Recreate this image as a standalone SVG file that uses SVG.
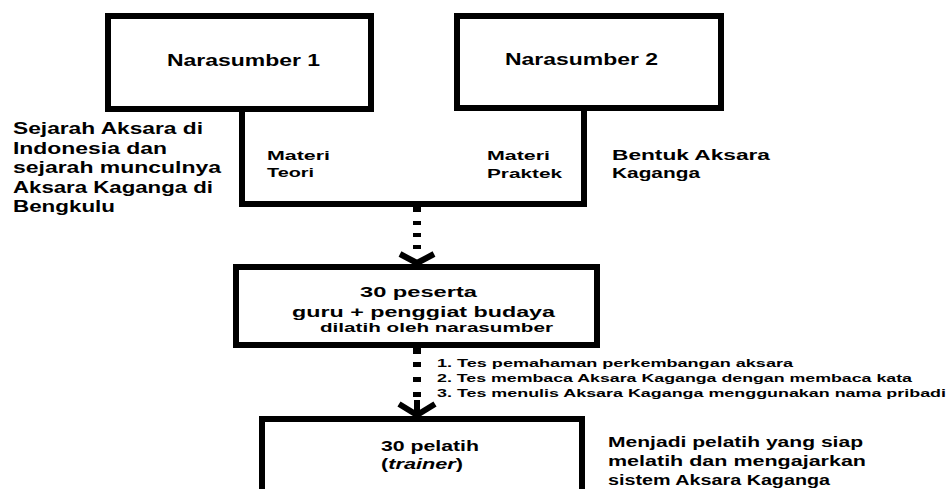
<svg xmlns="http://www.w3.org/2000/svg" width="948" height="489" viewBox="0 0 948 489">
<style>
.box{fill:#fff;stroke:#000;stroke-width:6}
.ln{fill:none;stroke:#000;stroke-width:6;stroke-linecap:square}
.arr{fill:none;stroke:#000;stroke-width:6;stroke-linejoin:miter;stroke-miterlimit:10}
.dash{fill:#000}
text{font-family:"Liberation Sans",Arial,sans-serif;font-weight:bold;fill:#000}
.f16{font-size:16px}
.f15{font-size:14.5px}
.f14{font-size:14px}
.f13{font-size:13px}
.f125{font-size:12.5px}
.f12{font-size:11.5px}
</style>
<rect width="948" height="489" fill="#fff"/>
<g id="connectors">
  <path class="ln" d="M242,110 V204 H584 V110"/>
  <rect class="dash" x="413" y="205" width="8" height="7"/>
  <rect class="dash" x="413" y="221" width="8" height="4"/>
  <rect class="dash" x="413" y="233" width="8" height="4"/>
  <rect class="dash" x="413" y="245" width="8" height="4"/>
  <path class="arr" d="M400,254 L417,263 L434,254"/>
  <rect class="dash" x="413" y="347" width="8" height="7"/>
  <rect class="dash" x="413" y="362" width="8" height="5"/>
  <rect class="dash" x="413" y="377" width="8" height="5"/>
  <rect class="dash" x="413" y="392" width="8" height="5"/>
  <path class="arr" d="M399,404 L417,415 L435,404 M417,400 V415"/>
</g>
<g id="narasumber1">
  <rect class="box" x="108" y="16" width="263" height="93"/>
  <text class="f16" x="167" y="66" textLength="153" lengthAdjust="spacingAndGlyphs">Narasumber 1</text>
</g>
<g id="narasumber2">
  <rect class="box" x="457" y="16" width="264" height="92"/>
  <text class="f16" x="505" y="65" textLength="153" lengthAdjust="spacingAndGlyphs">Narasumber 2</text>
</g>
<g id="materi-teori">
  <text class="f13" x="267" y="160" textLength="63" lengthAdjust="spacingAndGlyphs">Materi</text>
  <text class="f13" x="267" y="177" textLength="47" lengthAdjust="spacingAndGlyphs">Teori</text>
</g>
<g id="materi-praktek">
  <text class="f13" x="487" y="160" textLength="63" lengthAdjust="spacingAndGlyphs">Materi</text>
  <text class="f13" x="487" y="178" textLength="75" lengthAdjust="spacingAndGlyphs">Praktek</text>
</g>
<g id="sejarah">
  <text class="f16" x="13" y="134" textLength="190" lengthAdjust="spacingAndGlyphs">Sejarah Aksara di</text>
  <text class="f16" x="13" y="154" textLength="154" lengthAdjust="spacingAndGlyphs">Indonesia  dan</text>
  <text class="f16" x="13" y="173" textLength="208" lengthAdjust="spacingAndGlyphs">sejarah munculnya</text>
  <text class="f16" x="13" y="193" textLength="200" lengthAdjust="spacingAndGlyphs">Aksara Kaganga di</text>
  <text class="f16" x="13" y="212" textLength="102" lengthAdjust="spacingAndGlyphs">Bengkulu</text>
</g>
<g id="bentuk">
  <text class="f14" x="612" y="160" textLength="158" lengthAdjust="spacingAndGlyphs">Bentuk Aksara</text>
  <text class="f14" x="612" y="178" textLength="88" lengthAdjust="spacingAndGlyphs">Kaganga</text>
</g>
<g id="peserta">
  <rect class="box" x="236" y="267" width="361" height="78"/>
  <text class="f15" x="360" y="297" textLength="117" lengthAdjust="spacingAndGlyphs">30 peserta</text>
  <text class="f15" x="292" y="317" textLength="263" lengthAdjust="spacingAndGlyphs">guru + penggiat budaya</text>
  <text class="f125" x="320" y="332" textLength="233" lengthAdjust="spacingAndGlyphs">dilatih oleh narasumber</text>
</g>
<g id="tes">
  <text class="f12" x="437" y="367" textLength="356" lengthAdjust="spacingAndGlyphs">1. Tes pemahaman perkembangan aksara</text>
  <text class="f12" x="437" y="382" textLength="475" lengthAdjust="spacingAndGlyphs">2. Tes membaca Aksara Kaganga dengan membaca kata</text>
  <text class="f12" x="437" y="397" textLength="509" lengthAdjust="spacingAndGlyphs">3. Tes menulis Aksara Kaganga menggunakan nama pribadi</text>
</g>
<g id="pelatih">
  <rect class="box" x="262" y="419" width="320" height="90"/>
  <text class="f14" x="381" y="451" textLength="98" lengthAdjust="spacingAndGlyphs">30 pelatih</text>
  <text class="f14" x="381" y="469" textLength="82" lengthAdjust="spacingAndGlyphs">(<tspan font-style="italic">trainer</tspan>)</text>
</g>
<g id="menjadi">
  <text class="f14" x="608" y="447" textLength="255" lengthAdjust="spacingAndGlyphs">Menjadi pelatih yang siap</text>
  <text class="f14" x="608" y="466" textLength="258" lengthAdjust="spacingAndGlyphs">melatih dan mengajarkan</text>
  <text class="f14" x="608" y="485" textLength="222" lengthAdjust="spacingAndGlyphs">sistem Aksara Kaganga</text>
</g>
</svg>
